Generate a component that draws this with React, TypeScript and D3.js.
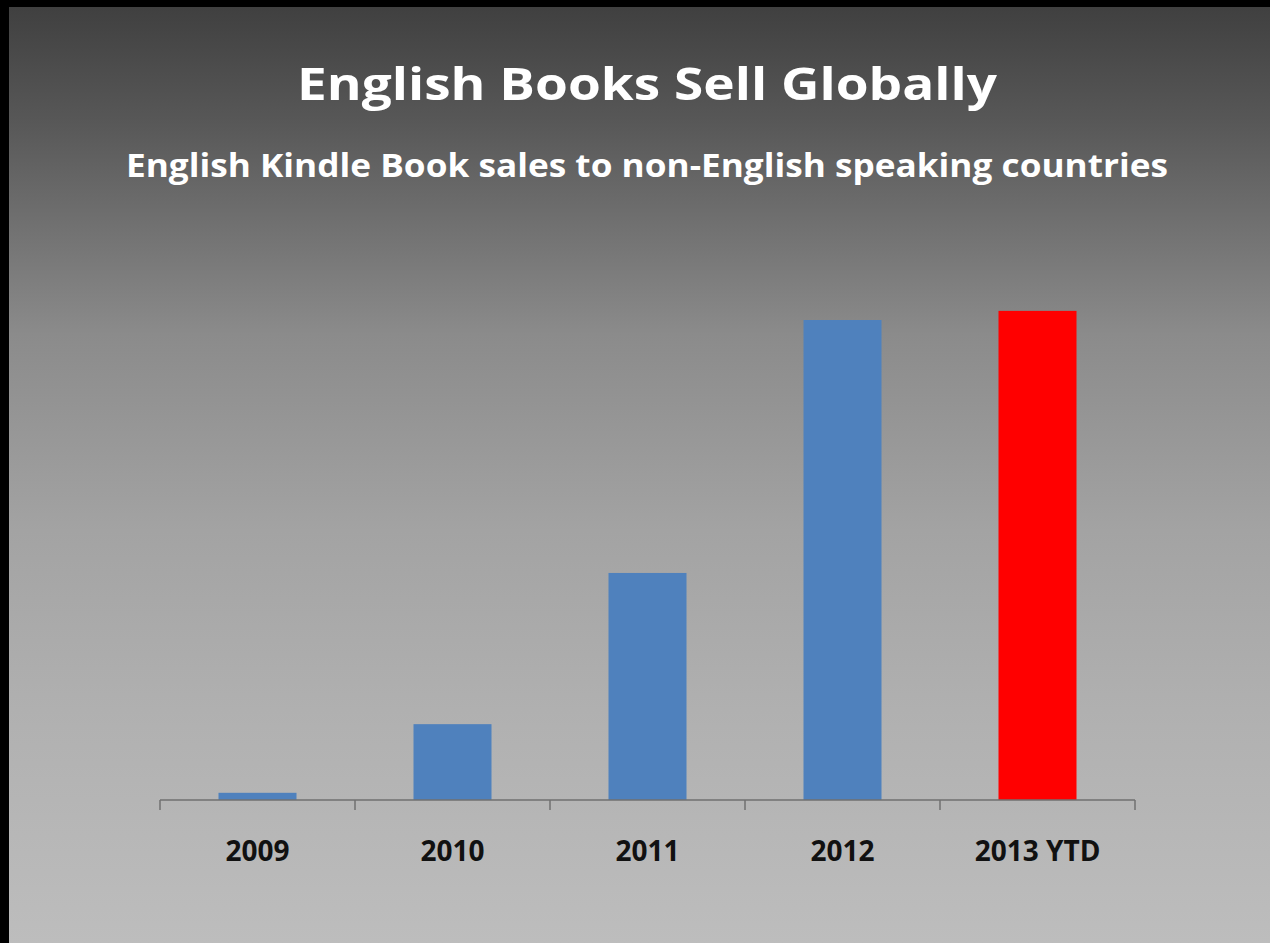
import React from "react";
import * as d3 from "d3";

const categories = ["2009", "2010", "2011", "2012", "2013 YTD"];
const values = [1.5, 15.8, 47.3, 100, 101.9];
const barColors = ["#4f81bd", "#4f81bd", "#4f81bd", "#4f81bd", "#ff0000"];
const title = "English Books Sell Globally";
const subtitle = "English Kindle Book sales to non-English speaking countries";

const W = 1270;
const H = 943;
const plot = { left: 160, right: 1135, base: 800, top: 320 };

export default function App() {
  const x = d3
    .scaleBand<string>()
    .domain(categories)
    .range([plot.left, plot.right])
    .paddingInner(0.6)
    .paddingOuter(0.3);
  const y = d3.scaleLinear().domain([0, 100]).range([plot.base, plot.top]);
  const step = x.step();
  const gap = (step - x.bandwidth()) / 2;
  const tickXs = categories.map((c) => (x(c) as number) - gap).concat([plot.right]);

  return (
    <svg
      width={W}
      height={H}
      style={{ position: "absolute", left: 0, top: 0, display: "block" }}
      fontFamily="'Open Sans', sans-serif"
    >
      <defs>
        <linearGradient id="bg" x1="0" y1="0" x2="0" y2="1">
          <stop offset="0" stopColor="#404040" />
          <stop offset="0.12" stopColor="#575757" />
          <stop offset="0.35" stopColor="#8b8b8b" />
          <stop offset="0.56" stopColor="#a3a3a3" />
          <stop offset="0.75" stopColor="#b0b0b0" />
          <stop offset="1" stopColor="#bdbdbd" />
        </linearGradient>
      </defs>
      <rect x={0} y={0} width={W} height={H} fill="#000" />
      <rect x={9} y={7} width={W - 9} height={H - 7} fill="url(#bg)" />

      <text
        x={647}
        y={100}
        textAnchor="middle"
        fill="#ffffff"
        fontSize={45}
        fontWeight="bold"
        textLength={700}
        lengthAdjust="spacingAndGlyphs"
      >
        {title}
      </text>
      <text
        x={647}
        y={177}
        textAnchor="middle"
        fill="#ffffff"
        fontSize={33}
        fontWeight="bold"
        textLength={1042}
        lengthAdjust="spacingAndGlyphs"
      >
        {subtitle}
      </text>

      {categories.map((c, i) => (
        <rect
          key={c}
          x={x(c)}
          y={y(values[i])}
          width={x.bandwidth()}
          height={plot.base - y(values[i])}
          fill={barColors[i]}
        />
      ))}

      <line x1={plot.left} x2={plot.right} y1={plot.base} y2={plot.base} stroke="#707070" strokeWidth={1.5} />
      {tickXs.map((tx, i) => (
        <line key={i} x1={tx} x2={tx} y1={plot.base} y2={plot.base + 10} stroke="#707070" strokeWidth={1.5} />
      ))}

      {categories.map((c) => (
        <text
          key={c}
          x={(x(c) as number) + x.bandwidth() / 2}
          y={861}
          textAnchor="middle"
          fill="#111111"
          fontSize={28}
          fontWeight="bold"
        >
          {c}
        </text>
      ))}
    </svg>
  );
}
